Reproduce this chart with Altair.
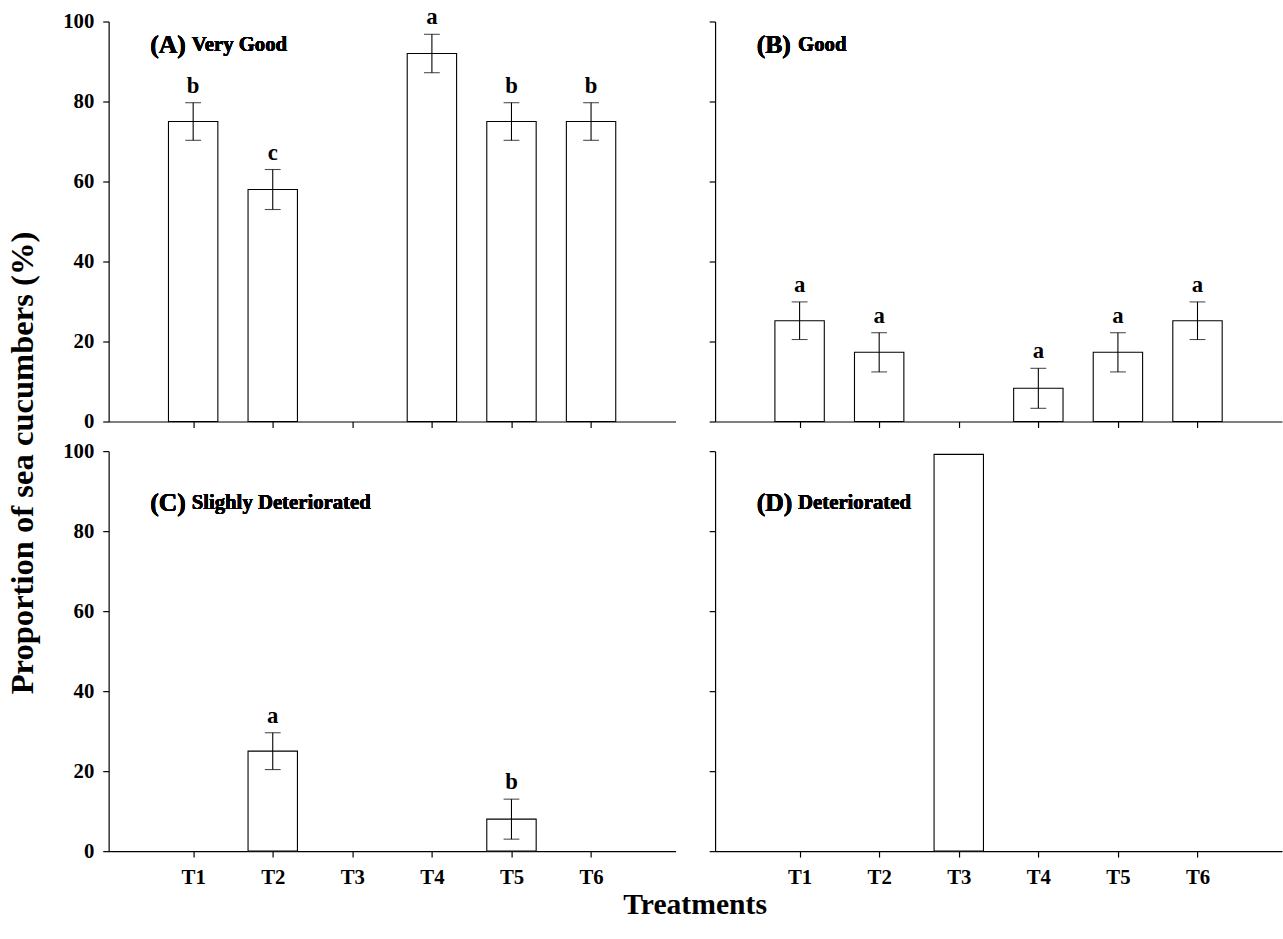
import altair as alt
import pandas as pd

treatments = ["T1", "T2", "T3", "T4", "T5", "T6"]
positions = [1, 2, 3, 4, 5, 6]

# Panel values (mean proportion %, standard error, significance letter)
a_mean = [75, 58, 0, 92, 75, 75]
a_err = [4.7, 5.0, 0, 4.8, 4.7, 4.7]
a_letter = ["b", "c", "", "a", "b", "b"]

b_mean = [25.2, 17.3, 0, 8.3, 17.3, 25.2]
b_err = [4.7, 4.9, 0, 5.0, 4.9, 4.7]
b_letter = ["a", "a", "", "a", "a", "a"]

c_mean = [0, 25, 0, 0, 8, 0]
c_err = [0, 4.6, 0, 0, 5.0, 0]
c_letter = ["", "a", "", "", "b", ""]

d_mean = [0, 0, 99.2, 0, 0, 0]
d_err = [0, 0, 0, 0, 0, 0]
d_letter = ["", "", "", "", "", ""]

panel_tags = ["(A)", "(B)", "(C)", "(D)"]
panel_names = ["Very Good", "Good", "Slighly Deteriorated", "Deteriorated"]

FONT = "Liberation Serif"


def frame(mean, err, letter):
    df = pd.DataFrame({"pos": positions, "trt": treatments, "mean": mean,
                       "err": err, "letter": letter})
    df["lo"] = df["mean"] - df["err"]
    df["hi"] = df["mean"] + df["err"]
    return df


label_expr = "[" + ",".join(f"'{t}'" for t in treatments) + "][datum.value - 1]"


def panel(df, tag, name, show_xlabels, show_ylabels, label_y):
    xscale = alt.Scale(domain=[0, 7], nice=False, zero=False)
    yscale = alt.Scale(domain=[0, 100], nice=False)
    xaxis = alt.Axis(values=positions, labelExpr=label_expr, title=None, grid=False,
                     labels=show_xlabels, tickSize=6, labelPadding=10)
    yaxis = alt.Axis(values=[0, 20, 40, 60, 80, 100], title=None, grid=False,
                     labels=show_ylabels, tickSize=6, labelPadding=9)
    base = alt.Chart(df)
    x = alt.X("pos:Q", scale=xscale, axis=xaxis)
    bars = base.transform_filter("datum.mean > 0").mark_bar(
        size=50, fill="white", stroke="black", strokeWidth=1.1
    ).encode(x=x, y=alt.Y("mean:Q", scale=yscale, axis=yaxis))
    errs = base.transform_filter("datum.err > 0")
    rule = errs.mark_rule(color="black", strokeWidth=1.1).encode(
        x="pos:Q", y="lo:Q", y2="hi:Q")
    cap_lo = errs.mark_tick(orient="horizontal", size=16, thickness=1.1,
                            color="black").encode(x="pos:Q", y="lo:Q")
    cap_hi = errs.mark_tick(orient="horizontal", size=16, thickness=1.1,
                            color="black").encode(x="pos:Q", y="hi:Q")
    letters = base.transform_filter("datum.letter != ''").mark_text(
        baseline="bottom", dy=-5, fontSize=23, fontWeight="bold", font=FONT,
        color="black"
    ).encode(x="pos:Q", y=alt.Y("hi:Q"), text="letter:N")
    tag_t = alt.Chart(df).mark_text(
        align="left", baseline="middle", fontSize=26, fontWeight="bold",
        font=FONT, color="black", text=tag
    ).encode(x=alt.datum(0.46), y=alt.datum(label_y))
    name_t = alt.Chart(df).mark_text(
        align="left", baseline="middle", fontSize=21, fontWeight="bold",
        font=FONT, color="black", text=name, dx=42
    ).encode(x=alt.datum(0.46), y=alt.datum(label_y))
    return alt.layer(bars, rule, cap_lo, cap_hi, letters, tag_t, name_t).properties(
        width=574, height=405)


pa = panel(frame(a_mean, a_err, a_letter), panel_tags[0], panel_names[0], False, True, 94)
pb = panel(frame(b_mean, b_err, b_letter), panel_tags[1], panel_names[1], False, False, 94)
pc = panel(frame(c_mean, c_err, c_letter), panel_tags[2], panel_names[2], True, True, 87)
pd_ = panel(frame(d_mean, d_err, d_letter), panel_tags[3], panel_names[3], True, False, 87)

top = alt.hconcat(pa, pb, spacing=31)
bottom = alt.hconcat(
    pc, pd_, spacing=31,
    title=alt.Title("Treatments", orient="bottom", anchor="middle", fontSize=30,
                    font=FONT, fontWeight="bold", color="black", offset=2, dx=23),
)

chart = alt.vconcat(
    top, bottom, spacing=7,
    title=alt.Title("Proportion of sea cucumbers (%)", orient="left", anchor="middle",
                    fontSize=33, font=FONT, fontWeight="bold", color="black", offset=23),
).properties(
    padding={"left": 6, "top": 0, "right": 0, "bottom": 0}
).configure_view(
    stroke="transparent"
).configure_axis(
    domainColor="black", tickColor="black", labelColor="black", labelFont=FONT,
    labelFontWeight="bold", labelFontSize=21, domainWidth=1.2, tickWidth=1.2
)

chart.save("out.html", embed_options={"renderer": "svg", "actions": False})
